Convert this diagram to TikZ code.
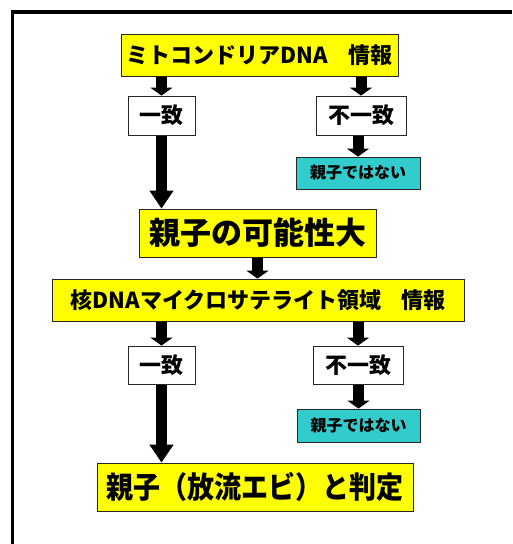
\documentclass[tikz,border=0pt]{standalone}
\usepackage{fontspec}
\setmainfont{Noto Sans CJK JP}
\newfontfamily\jpcond{Noto Sans CJK JP}[FakeStretch=0.9]
\usetikzlibrary{arrows.meta}
\definecolor{boxyellow}{HTML}{FFFF00}
\definecolor{boxteal}{HTML}{33CCCC}
\tikzset{
  box/.style={draw=black!85, line width=0.8pt, inner sep=0pt, align=center, font=\bfseries},
  ybox/.style={box, fill=boxyellow},
  wbox/.style={box, fill=white},
  tbox/.style={box, fill=boxteal},
  fat/.style={line width=11pt, -{Triangle[width=22pt,length=8pt]}, shorten <=0.4pt},
  fatlong/.style={line width=11pt, -{Triangle[width=23pt,length=18pt]}, shorten <=0.4pt},
  frameline/.style={line width=3.5pt}
}
\begin{document}
\begin{tikzpicture}[x=1pt,y=-1pt]
\useasboundingbox (0,0) rectangle (512,544);
\draw[frameline] (12.5,544) -- (12.5,12) -- (512,12);

\node[ybox, minimum width=277pt, minimum height=42pt, font=\bfseries\fontsize{22}{24}\selectfont] (m1) at (259.5,55) {ミトコンドリアDNA\hspace{0.9em}情報};
\node[wbox, minimum width=67pt, minimum height=39pt, font=\bfseries\fontsize{22}{24}\selectfont] (y1) at (161.5,115.5) {一致};
\node[wbox, minimum width=90pt, minimum height=39pt, font=\bfseries\fontsize{22}{24}\selectfont] (n1) at (361,115.5) {不一致};
\node[tbox, minimum width=124pt, minimum height=32pt, font=\bfseries\fontsize{16}{18}\selectfont] (r1) at (358,173) {親子ではない};
\node[ybox, minimum width=237pt, minimum height=48pt, font=\bfseries\fontsize{31}{33}\selectfont] (p) at (257.5,233) {親子の可能性大};
\node[ybox, minimum width=412pt, minimum height=42pt, font=\bfseries\fontsize{22}{24}\selectfont] (k) at (258,300) {核DNAマイクロサテライト領域\hspace{0.9em}情報};
\node[wbox, minimum width=67pt, minimum height=38pt, font=\bfseries\fontsize{22}{24}\selectfont] (y2) at (161.5,365) {一致};
\node[wbox, minimum width=90pt, minimum height=38pt, font=\bfseries\fontsize{22}{24}\selectfont] (n2) at (358,365) {不一致};
\node[tbox, minimum width=123pt, minimum height=33pt, font=\bfseries\fontsize{16}{18}\selectfont] (r2) at (358.5,425.5) {親子ではない};
\node[ybox, minimum width=316pt, minimum height=48pt, font=\jpcond\bfseries\fontsize{30}{32}\selectfont] (f) at (255,487) {親子（放流エビ）と判定};

\draw[fat] (m1.south -| y1.north) -- (y1.north);
\draw[fat] (m1.south -| n1.north) -- (n1.north);
\draw[fat] (n1.south -| r1.north) -- (r1.north);
\draw[fatlong] (y1.south) -- (y1.south |- p.north);
\draw[fat] (p.south) -- (p.south |- k.north);
\draw[fat] (k.south -| y2.north) -- (y2.north);
\draw[fat] (k.south -| n2.north) -- (n2.north);
\draw[fat] (n2.south -| r2.north) -- (r2.north);
\draw[fatlong] (y2.south) -- (y2.south |- f.north);
\end{tikzpicture}
\end{document}
